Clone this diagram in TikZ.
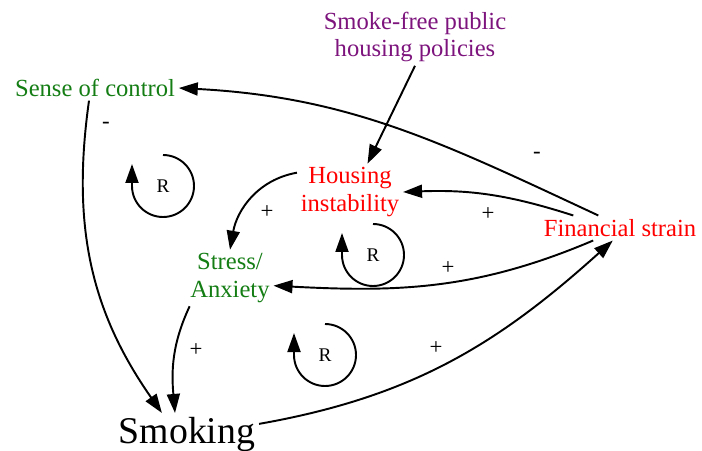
\documentclass[tikz,border=0pt]{standalone}
\usepackage{fontspec}
\setmainfont{Liberation Serif}
\usetikzlibrary{arrows.meta}
\definecolor{ctrlgreen}{RGB}{20,125,20}
\definecolor{policypurple}{RGB}{125,20,125}
\tikzstyle{var} = [inner sep=2pt, align=center, font=\fontsize{14}{15.5}\selectfont]
\tikzstyle{link} = [line width=1.1pt, -{Triangle[length=3.8mm, width=2.6mm]}]
\tikzstyle{sign} = [font=\fontsize{13}{14}\selectfont]

\begin{document}
\begin{tikzpicture}[x=0.02cm, y=0.02cm]
    \useasboundingbox (0,0) rectangle (702,450);
    % variables
    \node[var, text=ctrlgreen] (control) at (95,362) {Sense of control};
    \node[var, text=policypurple] (policy) at (415,413) {Smoke-free public\\housing policies};
    \node[var, text=red] (housing) at (350,258) {Housing\\instability};
    \node[var, text=red] (strain) at (620,222) {Financial strain};
    \node[var, text=ctrlgreen] (stress) at (230,172) {Stress/\\Anxiety};
    \node[var, font=\fontsize{21.5}{24}\selectfont] (smoking) at (187,16) {Smoking};
    % causal links
    \draw[link] (strain.150) to[out=155, in=-3] (control.east);
    \draw[link] (policy.south) -- ([xshift=0.35cm]housing.north);
    \draw[link] (strain.165) to[bend right=10] (housing.east);
    \draw[link] (housing.160) to[out=190, in=80] (stress.north);
    \draw[link] (strain.205) to[out=203, in=-3] (stress.-10);
    \draw[link] (stress.215) to[out=-115, in=95] ([xshift=-0.24cm]smoking.north);
    \draw[link] ([xshift=-0.12cm]control.south) to[out=-98, in=125] (smoking.140);
    \draw[link] (smoking.8) to[out=10, in=222] (strain.240);
    % polarities
    \node[sign] (m1) at (106,325) {-};
    \node[sign] (m2) at (537,295) {-};
    \node[sign] (p1) at (267,238) {+};
    \node[sign] (p2) at (488,236) {+};
    \node[sign] (p3) at (448,182) {+};
    \node[sign] (p4) at (196,100) {+};
    \node[sign] (p5) at (436,102) {+};
    % reinforcing loops
    \foreach \n/\cx/\cy in {r1/163/264, r2/373/195, r3/325/95} {
      \node[font=\fontsize{11}{12}\selectfont] (\n) at (\cx,\cy) {R};
      \draw[link] (\n.center) ++(90:31) arc[start angle=90, end angle=-180, radius=31] -- ++(0,22);
    }
\end{tikzpicture}
\end{document}
